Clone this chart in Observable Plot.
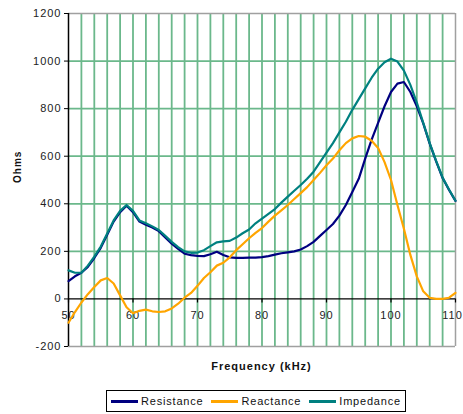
<!DOCTYPE html>
<html><head><meta charset="utf-8">
<script src="https://cdn.jsdelivr.net/npm/d3@7"></script>
<script src="https://cdn.jsdelivr.net/npm/@observablehq/plot@0.6"></script>
<style>
body{margin:0;background:#fff;font-family:"Liberation Sans",Arial,sans-serif;}
#wrap{position:relative;width:463px;height:414px;overflow:hidden;}
#xtitle{position:absolute;top:360px;left:68px;width:387px;text-align:center;font-weight:bold;font-size:11px;letter-spacing:1px;color:#111;}
#legend{position:absolute;left:106px;top:390px;width:298px;height:20px;border:1.5px solid #000;display:flex;align-items:center;justify-content:center;gap:8px;font-size:11px;letter-spacing:0.8px;color:#111;}
.item{display:flex;align-items:center;}
.sw{display:inline-block;width:27px;height:3px;margin-right:3px;}
</style></head><body>
<div id="wrap">
<div id="chart"></div>
<div id="xtitle">Frequency (kHz)</div>
<div id="legend"></div>
</div>
<script>
const frequency = [50,51,52,53,54,55,56,57,58,59,60,61,62,63,64,65,66,67,68,69,70,71,72,73,74,75,76,77,78,79,80,81,82,83,84,85,86,87,88,89,90,91,92,93,94,95,96,97,98,99,100,101,102,103,104,105,106,107,108,109,110];
const resistance = [75,95,110,135,172,215,270,325,365,392,365,325,312,300,285,258,232,210,190,184,181,180,188,198,185,175,173,173,174,174,176,180,186,192,196,200,208,222,240,265,290,315,350,395,450,505,590,670,740,810,870,905,912,870,810,738,653,578,508,458,412];
const reactance = [-100,-55,-15,20,50,78,88,65,15,-35,-60,-50,-45,-52,-55,-52,-40,-20,5,25,55,88,112,140,152,175,205,230,255,278,298,325,350,372,395,420,445,470,500,530,562,590,625,655,675,685,682,665,635,575,500,395,295,185,95,32,5,0,0,5,25];
const impedance = [120,110,110,140,178,220,275,330,370,395,370,330,318,305,290,265,240,218,200,194,195,205,222,238,242,244,258,276,292,318,338,358,378,405,430,455,479,505,535,575,615,655,700,745,795,840,885,930,968,995,1010,998,960,900,825,740,655,580,510,460,413];
const seriesNames = ["Resistance","Reactance","Impedance"];
const seriesColors = ["#000080","#FFA500","#008080"];
const xTicks = [50,60,70,80,90,100,110];
const yTicks = [-200,0,200,400,600,800,1000,1200];
const xGrid = [52,54,56,58,60,62,64,66,68,70,72,74,76,78,80,82,84,86,88,90,92,94,96,98,100,102,104,106,108];
const yGrid = [200,400,600,800,1000];

const rows = [];
[resistance, reactance, impedance].forEach((arr, s) => {
  arr.forEach((v, i) => rows.push({series: seriesNames[s], f: frequency[i], v}));
});

const grid = "#6bb88b";
const chart = Plot.plot({
  width: 463, height: 380,
  marginLeft: 68, marginRight: 8, marginTop: 13, marginBottom: 34,
  style: {fontFamily: "'Liberation Sans', Arial, sans-serif", background: "#fff"},
  x: {domain: [50,110], axis: null},
  y: {domain: [-200,1200], axis: null},
  color: {domain: seriesNames, range: seriesColors},
  marks: [
    Plot.ruleX(xGrid, {stroke: grid, strokeWidth: 1.8}),
    Plot.ruleY(yGrid, {stroke: grid, strokeWidth: 1.8}),
    Plot.ruleY([1200, -200], {stroke: "#a0a0a0", strokeWidth: 1.5}),
    Plot.ruleX([110], {stroke: "#a0a0a0", strokeWidth: 1.5}),
    Plot.ruleY([0], {stroke: "#000", strokeWidth: 1.3}),
    Plot.ruleX(xTicks, {x: d => d, y1: 0, y2: -17, stroke: "#000", strokeWidth: 1.2}),
    Plot.text(xTicks.filter(d => d < 110), {x: d => d, y: 0, dy: 17, text: d => String(d), fontSize: 11, fill: "#222"}),
    Plot.text(xTicks.filter(d => d === 110), {x: d => d, y: 0, dy: 17, dx: -3, text: d => String(d), fontSize: 11, fill: "#222"}),
    Plot.ruleX([50], {stroke: "#000", strokeWidth: 1.5}),
    Plot.axisY(yTicks, {anchor: "left", tickSize: 4, tickPadding: 3, fontSize: 11, stroke: "#000", label: null, tickFormat: d => String(d), fill: "#222"}),
    Plot.line(rows, {x: "f", y: "v", z: "series", stroke: "series", strokeWidth: 2.2}),
    Plot.text(["Ohms"], {frameAnchor: "left", dx: -51, dy: 3, rotate: -90, fontWeight: "bold", fontSize: 10, fill: "#111", text: d => d})
  ]
});
chart.querySelectorAll("text").forEach(t => t.style.letterSpacing = "1px");
document.getElementById("chart").appendChild(chart);

const legend = document.getElementById("legend");
seriesNames.forEach((n, i) => {
  const it = document.createElement("div");
  it.className = "item";
  it.innerHTML = `<span class="sw" style="background:${seriesColors[i]}"></span><span>${n}</span>`;
  legend.appendChild(it);
});
</script>
</body></html>
